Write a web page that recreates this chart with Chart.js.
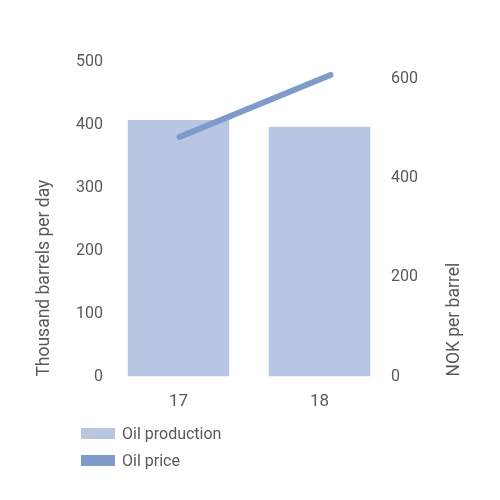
<!DOCTYPE html>
<html>
<head>
<meta charset="utf-8">
<script src="https://cdn.jsdelivr.net/npm/chart.js@4"></script>
<style>
  body { margin: 0; background: #fff; }
  #wrap { position: relative; width: 500px; height: 500px; }
  #box { position: absolute; left: 0; top: 0; width: 500px; height: 429px; }
  #legend { position: absolute; left: 81px; top: 420px; font-family: Roboto, sans-serif; font-size: 16px; color: #595959; }
  .item { display: flex; align-items: center; height: 27px; }
  .swatch { width: 34px; height: 11px; margin-right: 7px; }
</style>
</head>
<body>
<div id="wrap">
  <div id="box"><canvas id="oilChart"></canvas></div>
  <div id="legend"></div>
</div>
<script>
// datos
var years = ['17', '18'];
var productionValues = [408, 397];   // miles de barriles por dia
var priceValues = [483, 608];        // NOK por barril
var leftTicks = [0, 100, 200, 300, 400, 500];
var rightTicks = [0, 200, 400, 600];

var textColor = '#595959';
var fontFamily = 'Roboto, sans-serif';

// titulo del eje derecho, escrito de abajo hacia arriba como el izquierdo
var rightTitlePlugin = {
    id: 'rightTitle',
    afterDraw: function(chart) {
        var scale = chart.scales.y2;
        var ctx = chart.ctx;
        ctx.save();
        ctx.translate(scale.right - 13, chart.chartArea.bottom);
        ctx.rotate(-Math.PI / 2);
        ctx.font = '17.5px ' + fontFamily;
        ctx.fillStyle = textColor;
        ctx.textAlign = 'left';
        ctx.textBaseline = 'middle';
        ctx.fillText('NOK per barrel', 0, 0);
        ctx.restore();
    }
};

var chart = new Chart(document.getElementById('oilChart'), {
    type: 'bar',
    data: {
        labels: years,
        datasets: [{
            label: 'Oil production',
            data: productionValues,
            backgroundColor: '#b8c6e1',
            categoryPercentage: 1,
            barPercentage: 0.72,
            grouped: false,
            yAxisID: 'y',
            order: 2
        }, {
            type: 'line',
            label: 'Oil price',
            data: priceValues.map(function(v, i) { return { x: i, y: v }; }),
            borderColor: '#7f9bc9',
            backgroundColor: '#7f9bc9',
            borderWidth: 6,
            borderCapStyle: 'round',
            pointRadius: 0,
            tension: 0,
            xAxisID: 'x2',
            yAxisID: 'y2',
            order: 1
        }]
    },
    options: {
        responsive: true,
        maintainAspectRatio: false,
        animation: false,
        layout: { padding: { top: 62, left: 30, right: 32, bottom: 10 } },
        plugins: {
            legend: { display: false },
            tooltip: { enabled: false }
        },
        scales: {
            x: {
                grid: { display: false },
                border: { display: false },
                ticks: { color: textColor, font: { family: fontFamily, size: 17 }, padding: 7 }
            },
            x2: {
                type: 'linear',
                display: false,
                offset: false,
                min: -0.473,
                max: 1.394
            },
            y: {
                position: 'left',
                min: leftTicks[0],
                max: leftTicks[leftTicks.length - 1],
                grid: { display: false, drawTicks: false },
                border: { display: false },
                afterBuildTicks: function(axis) {
                    axis.ticks = leftTicks.map(function(v) { return { value: v }; });
                },
                ticks: { color: textColor, font: { family: fontFamily, size: 16 }, padding: 5 },
                title: {
                    display: true,
                    text: 'Thousand barrels per day',
                    align: 'start',
                    color: textColor,
                    font: { family: fontFamily, size: 17.5 },
                    padding: { top: 4, bottom: 16 }
                }
            },
            y2: {
                position: 'right',
                min: 0,
                max: 634,
                grid: { display: false, drawTicks: false },
                border: { display: false },
                afterBuildTicks: function(axis) {
                    axis.ticks = rightTicks.map(function(v) { return { value: v }; });
                },
                ticks: { color: textColor, font: { family: fontFamily, size: 16 }, padding: 1 },
                title: {
                    display: true,
                    text: 'NOK per barrel',
                    color: 'transparent',
                    font: { family: fontFamily, size: 17.5 },
                    padding: { top: 4, bottom: 24 }
                }
            }
        }
    },
    plugins: [rightTitlePlugin]
});

// leyenda en lista vertical, construida desde los datasets
var legendEl = document.getElementById('legend');
chart.data.datasets.forEach(function(ds) {
    var item = document.createElement('div');
    item.className = 'item';
    var sw = document.createElement('span');
    sw.className = 'swatch';
    sw.style.background = ds.type === 'line' ? ds.borderColor : ds.backgroundColor;
    var label = document.createElement('span');
    label.textContent = ds.label;
    item.appendChild(sw);
    item.appendChild(label);
    legendEl.appendChild(item);
});
</script>
</body>
</html>
